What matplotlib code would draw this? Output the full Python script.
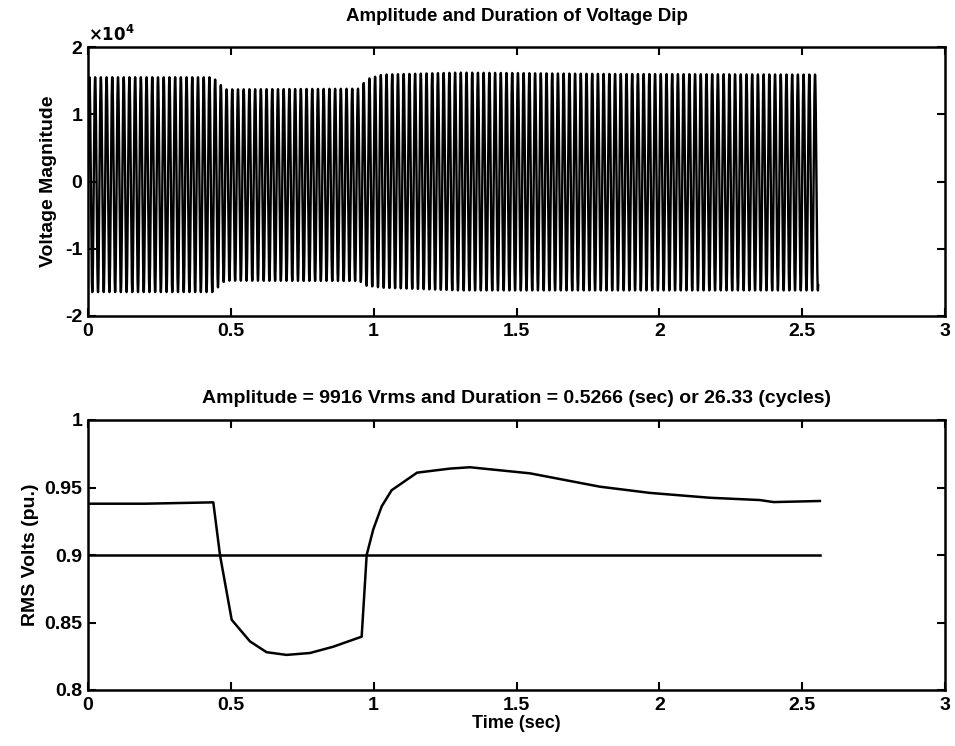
import numpy as np
import matplotlib
matplotlib.use("Agg")
import matplotlib.pyplot as plt

plt.rcParams["font.family"] = ["Liberation Sans", "DejaVu Sans"]
plt.rcParams["font.weight"] = "bold"
plt.rcParams["axes.unicode_minus"] = False

# Spannungsverlauf: Huellkurve der Spitzenwerte (x 1e4 V)
env_t = [0.0, 0.437, 0.48, 0.95, 0.975, 1.03, 1.30, 1.80, 2.556]
env_pos = [1.55, 1.55, 1.37, 1.38, 1.52, 1.59, 1.62, 1.60, 1.59]
env_neg = [1.645, 1.645, 1.475, 1.48, 1.55, 1.58, 1.62, 1.62, 1.62]
freq = 50.0
t_end = 2.556

# RMS-Verlauf (pu)
rms_t = [0.0, 0.20, 0.4386, 0.462, 0.503, 0.567, 0.625, 0.695, 0.777, 0.8575,
         0.958, 0.9755, 0.9986, 1.028, 1.063, 1.152, 1.267, 1.337, 1.547,
         1.792, 1.967, 2.177, 2.352, 2.40, 2.562]
rms_v = [0.938, 0.938, 0.939, 0.900, 0.852, 0.836, 0.828, 0.826, 0.8274, 0.832,
         0.8395, 0.900, 0.919, 0.936, 0.948, 0.961, 0.964, 0.965, 0.9605,
         0.9506, 0.946, 0.9424, 0.9407, 0.9392, 0.940]
thr_t = [0.0, 2.562]
thr_v = [0.9, 0.9]

x_ticks = [0, 0.5, 1, 1.5, 2, 2.5, 3]
x_labels = ["0", "0.5", "1", "1.5", "2", "2.5", "3"]
y1_ticks = [-2e4, -1e4, 0, 1e4, 2e4]
y1_labels = ["-2", "-1", "0", "1", "2"]
y2_ticks = [0.8, 0.85, 0.9, 0.95, 1.0]
y2_labels = ["0.8", "0.85", "0.9", "0.95", "1"]

title_top = "Amplitude and Duration of Voltage Dip"
title_bot = "Amplitude = 9916 Vrms and Duration = 0.5266 (sec) or 26.33 (cycles)"

t = np.linspace(0, t_end, 40000)
s = np.sin(2 * np.pi * freq * t)
amp = np.where(s >= 0, np.interp(t, env_t, env_pos), np.interp(t, env_t, env_neg)) * 1e4
v = amp * s

fig = plt.figure(figsize=(9.55, 7.46), dpi=100)
ax1 = fig.add_axes([88 / 955, 1 - 316 / 746, 857 / 955, 269 / 746])
ax2 = fig.add_axes([88 / 955, 1 - 690 / 746, 857 / 955, 270 / 746])

ax1.plot(t, v, color="black", lw=1.7)
ax1.set_xlim(0, 3)
ax1.set_ylim(-2e4, 2e4)
ax1.set_yticks(y1_ticks)
ax1.set_yticklabels(y1_labels)
ax1.text(0.0, 1.012, r"$\mathbf{\times 10^4}$", transform=ax1.transAxes,
         fontsize=12, ha="left", va="bottom")
ax1.set_ylabel("Voltage Magnitude", fontsize=14, fontweight="bold", labelpad=6)
ax1.set_title(title_top, fontsize=13.5, fontweight="bold", pad=19)

ax2.plot(rms_t, rms_v, color="black", lw=1.8)
ax2.plot(thr_t, thr_v, color="black", lw=1.8)
ax2.set_xlim(0, 3)
ax2.set_ylim(0.8, 1.0)
ax2.set_yticks(y2_ticks)
ax2.set_yticklabels(y2_labels)
ax2.set_ylabel("RMS Volts (pu.)", fontsize=14, fontweight="bold", labelpad=4)
ax2.set_title(title_bot, fontsize=14, fontweight="bold", pad=12)

for ax in (ax1, ax2):
    ax.set_xticks(x_ticks)
    ax.set_xticklabels(x_labels)
    ax.tick_params(direction="in", top=True, right=True, length=6, width=1.5,
                   labelsize=14)
    ax.tick_params(axis="x", pad=5)
    ax.tick_params(axis="y", pad=4)
    for sp in ax.spines.values():
        sp.set_linewidth(1.8)
    for lab in ax.get_xticklabels() + ax.get_yticklabels():
        lab.set_fontweight("bold")

ax2.set_xlabel("Time (sec)", fontsize=13, fontweight="bold", labelpad=1)

fig.savefig("out.png", dpi=100)
